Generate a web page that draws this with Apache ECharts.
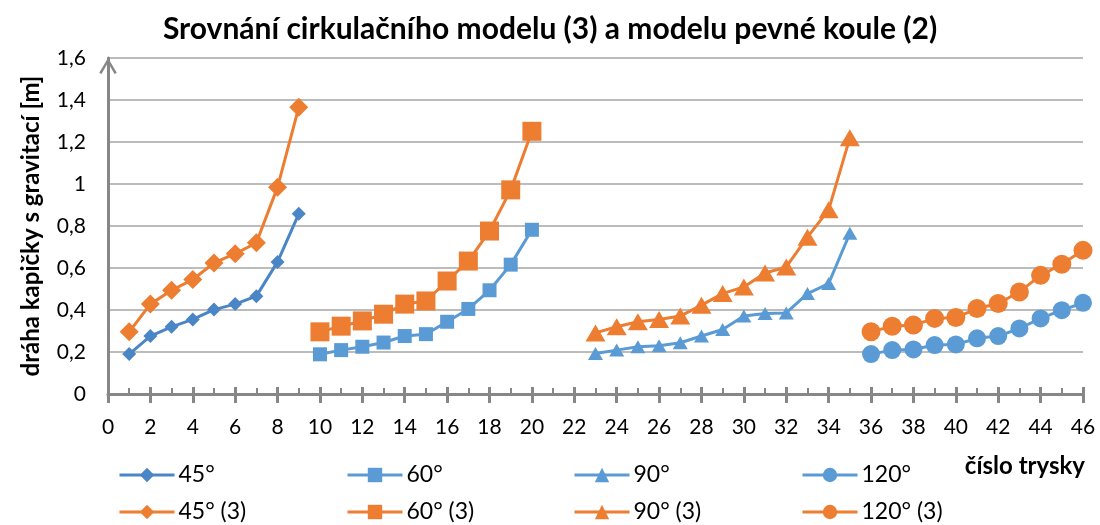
<!DOCTYPE html>
<html>
<head>
<meta charset="utf-8">
<title>Srovnání cirkulačního modelu (3) a modelu pevné koule (2)</title>
<script src="https://cdn.jsdelivr.net/npm/echarts@6/dist/echarts.min.js"></script>
<style>
  html, body { margin: 0; padding: 0; background: #ffffff; }
  #chart { width: 1100px; height: 525px; }
</style>
</head>
<body>
<div id="chart"></div>
<script>
// Jet numbers for each nozzle angle group
const jets45  = [1, 2, 3, 4, 5, 6, 7, 8, 9];
const jets60  = [10, 11, 12, 13, 14, 15, 16, 17, 18, 19, 20];
const jets90  = [23, 24, 25, 26, 27, 28, 29, 30, 31, 32, 33, 34, 35];
const jets120 = [36, 37, 38, 39, 40, 41, 42, 43, 44, 45, 46];

// Droplet path length with gravity [m] – solid sphere model (2)
const path45  = [0.190, 0.276, 0.320, 0.355, 0.402, 0.428, 0.466, 0.629, 0.858];
const path60  = [0.189, 0.209, 0.225, 0.245, 0.276, 0.285, 0.344, 0.405, 0.494, 0.616, 0.782];
const path90  = [0.193, 0.209, 0.225, 0.230, 0.244, 0.276, 0.307, 0.371, 0.383, 0.386, 0.478, 0.526, 0.765];
const path120 = [0.190, 0.209, 0.212, 0.233, 0.236, 0.265, 0.276, 0.312, 0.360, 0.399, 0.434];

// Droplet path length with gravity [m] – circulation model (3)
const path45c  = [0.296, 0.428, 0.494, 0.545, 0.624, 0.668, 0.720, 0.985, 1.365];
const path60c  = [0.296, 0.323, 0.348, 0.380, 0.428, 0.443, 0.538, 0.633, 0.776, 0.972, 1.251];
const path90c  = [0.291, 0.320, 0.344, 0.355, 0.371, 0.423, 0.478, 0.510, 0.576, 0.605, 0.747, 0.877, 1.220];
const path120c = [0.296, 0.323, 0.328, 0.360, 0.364, 0.407, 0.431, 0.486, 0.565, 0.618, 0.684];

// Axis ranges
const xMin = 0, xMax = 46, xStep = 2;
const yMin = 0, yMax = 1.6, yStep = 0.2;

const seriesNames = ['45°', '60°', '90°', '120°', '45° (3)', '60° (3)', '90° (3)', '120° (3)'];

const BLUE_DARK = '#4A86C5';
const BLUE = '#5B9BD5';
const ORANGE = '#ED7D31';
const AXIS_GRAY = '#878787';
const FONT = "Lato, 'Noto Sans', sans-serif";

function pairs(xs, ys) {
  return xs.map(function (x, i) { return [x, ys[i]]; });
}

function lineSeries(name, xs, ys, color, symbol, size) {
  return {
    name: name,
    type: 'line',
    data: pairs(xs, ys),
    symbol: symbol,
    symbolSize: size,
    showSymbol: true,
    lineStyle: { color: color, width: 3 },
    itemStyle: { color: color },
    emphasis: { disabled: true },
    animation: false
  };
}

const series = [
  lineSeries(seriesNames[0], jets45, path45, BLUE_DARK, 'diamond', 14),
  lineSeries(seriesNames[1], jets60, path60, BLUE, 'rect', 14),
  lineSeries(seriesNames[2], jets90, path90, BLUE, 'triangle', [15, 13]),
  lineSeries(seriesNames[3], jets120, path120, BLUE, 'circle', 18),
  lineSeries(seriesNames[4], jets45, path45c, ORANGE, 'diamond', 19),
  lineSeries(seriesNames[5], jets60, path60c, ORANGE, 'rect', 19),
  lineSeries(seriesNames[6], jets90, path90c, ORANGE, 'triangle', [20, 17]),
  lineSeries(seriesNames[7], jets120, path120c, ORANGE, 'circle', 19)
];

// Legend laid out as four columns of two rows
const legendCols = [118, 346, 573, 801];
const legends = legendCols.map(function (left, i) {
  return {
    orient: 'vertical',
    left: left,
    top: 463,
    itemWidth: 55,
    itemHeight: 18,
    itemGap: 13,
    padding: 0,
    selectedMode: false,
    lineStyle: { width: 3 },
    data: [seriesNames[i], seriesNames[i + 4]],
    textStyle: { fontFamily: FONT, fontSize: 23, color: '#000', lineHeight: 24, padding: [0, 0, 0, -1] }
  };
});

function decimalComma(v) {
  return String(+v.toFixed(1)).replace('.', ',');
}

const chart = echarts.init(document.getElementById('chart'), null, { renderer: 'canvas' });
chart.setOption({
  animation: false,
  backgroundColor: '#ffffff',
  title: {
    text: 'Srovnání cirkulačního modelu (3) a modelu pevné koule (2)',
    left: 'center',
    top: 9,
    textStyle: { fontFamily: FONT, fontSize: 30, fontWeight: 'bold', color: '#000' }
  },
  legend: legends,
  grid: { left: 108, right: 17, top: 58, bottom: 131, containLabel: false },
  xAxis: [
    {
      type: 'value',
      min: xMin, max: xMax, interval: xStep,
      name: 'číslo trysky',
      nameLocation: 'end',
      nameGap: 2,
      nameTextStyle: {
        fontFamily: FONT, fontSize: 24, fontWeight: 'bold', color: '#000',
        align: 'right', verticalAlign: 'top', padding: [60, 0, 0, 0]
      },
      axisLine: { show: true, onZero: false, lineStyle: { color: AXIS_GRAY, width: 3 } },
      axisTick: { show: true, inside: false, length: 9, lineStyle: { color: AXIS_GRAY, width: 3 } },
      axisLabel: { fontFamily: FONT, fontSize: 21, color: '#000', margin: 23 },
      splitLine: { show: false }
    },
    {
      // overlay carrying the inward half of the crossing ticks and the minor ticks
      type: 'value',
      min: xMin, max: xMax, interval: xStep,
      position: 'bottom',
      axisLine: { show: false },
      axisLabel: { show: false },
      axisTick: { show: true, inside: true, length: 7, lineStyle: { color: AXIS_GRAY, width: 3 } },
      minorTick: { show: true, splitNumber: 2, length: 6, lineStyle: { color: AXIS_GRAY, width: 2 } },
      splitLine: { show: false }
    }
  ],
  yAxis: {
    type: 'value',
    min: yMin, max: yMax, interval: yStep,
    name: 'dráha kapičky s gravitací [m]',
    nameLocation: 'middle',
    nameGap: 65,
    nameTextStyle: { fontFamily: FONT, fontSize: 24, fontWeight: 'bold', color: '#000' },
    axisLine: {
      show: true,
      lineStyle: { color: AXIS_GRAY, width: 3 },
      symbol: ['none', 'path://M0,10 L6,0 L12,10 L10.4,10.9 L6,3 L1.6,10.9 Z'],
      symbolSize: [18, 16],
      symbolOffset: [0, -8]
    },
    axisTick: { show: false },
    axisLabel: { fontFamily: FONT, fontSize: 21, color: '#000', margin: 22, formatter: decimalComma },
    splitLine: { show: true, lineStyle: { color: '#a6a6a6', width: 1.5 } }
  },
  series: series
});
</script>
</body>
</html>
